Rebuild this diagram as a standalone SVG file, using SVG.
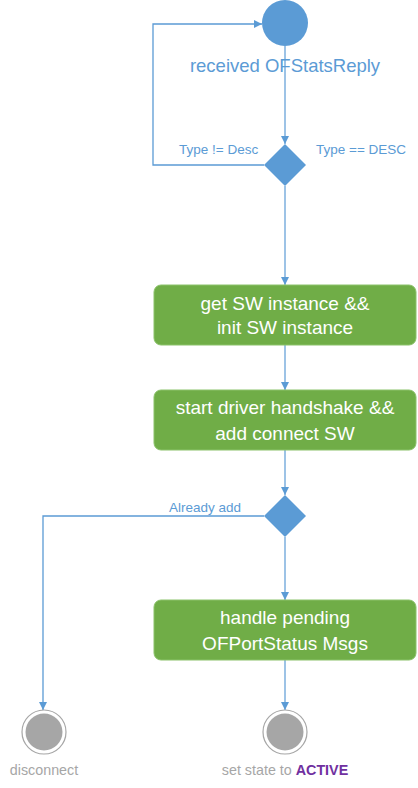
<svg xmlns="http://www.w3.org/2000/svg" width="418" height="788" viewBox="0 0 418 788">
<style>
.conn{fill:none;stroke:#9dc3e6;stroke-width:2}
.conn2{fill:none;stroke:#5b9bd5;stroke-width:1.3}
.box{fill:#70ad47;stroke:#8bc26a;stroke-width:1}
.bt{font-family:"Liberation Sans",Arial,sans-serif;font-size:19px;fill:#ffffff;text-anchor:middle}
.lbl{font-family:"Liberation Sans",Arial,sans-serif;font-size:13.5px;fill:#5b9bd5}
.dia{fill:#5b9bd5}
.end-o{fill:#ffffff;stroke:#a6a6a6;stroke-width:1.2}
.end-i{fill:#a6a6a6}
.gt{font-family:"Liberation Sans",Arial,sans-serif;font-size:14.3px;fill:#a6a6a6;text-anchor:middle}
</style>
<defs>
<marker id="arr" viewBox="0 0 10 10" refX="10" refY="5" markerWidth="8" markerHeight="8" markerUnits="userSpaceOnUse" orient="auto">
<path d="M0,0 L10,5 L0,10 z" fill="#5b9bd5"/>
</marker>
</defs>
<g id="connectors">
<line class="conn" x1="285" y1="46" x2="285" y2="144" marker-end="url(#arr)"/>
<polyline class="conn2" points="264,165 153,165 153,24 262,24" marker-end="url(#arr)"/>
<line class="conn" x1="285" y1="186" x2="285" y2="285" marker-end="url(#arr)"/>
<line class="conn" x1="285" y1="345" x2="285" y2="390" marker-end="url(#arr)"/>
<line class="conn" x1="285" y1="450" x2="285" y2="495" marker-end="url(#arr)"/>
<polyline class="conn2" points="264,516 43,516 43,710" marker-end="url(#arr)"/>
<line class="conn" x1="285" y1="537" x2="285" y2="600" marker-end="url(#arr)"/>
<line class="conn" x1="285" y1="660" x2="285" y2="710" marker-end="url(#arr)"/>
<text class="lbl" x="179" y="154">Type != Desc</text>
<text class="lbl" x="316" y="154">Type == DESC</text>
<text class="lbl" x="169" y="512">Already add</text>
</g>
<g id="start">
<circle cx="285" cy="23" r="23" fill="#5b9bd5"/>
<text x="285" y="72" font-family="Liberation Sans,Arial,sans-serif" font-size="18.5" fill="#5b9bd5" text-anchor="middle">received OFStatsReply</text>
</g>
<g id="decision1"><polygon class="dia" points="285,144 306,165 285,186 264,165"/></g>
<g id="box1">
<rect class="box" x="154" y="285" width="262" height="60" rx="7"/>
<text class="bt" x="285" y="310">get SW instance &amp;&amp;</text>
<text class="bt" x="285" y="334">init SW instance</text>
</g>
<g id="box2">
<rect class="box" x="154" y="390" width="262" height="60" rx="7"/>
<text class="bt" x="285" y="414">start driver handshake &amp;&amp;</text>
<text class="bt" x="285" y="440">add connect SW</text>
</g>
<g id="decision2"><polygon class="dia" points="285,495 306,516 285,537 264,516"/></g>
<g id="box3">
<rect class="box" x="154" y="600" width="262" height="60" rx="7"/>
<text class="bt" x="285" y="624">handle pending</text>
<text class="bt" x="285" y="650">OFPortStatus Msgs</text>
</g>
<g id="end-disconnect">
<circle class="end-o" cx="44" cy="732" r="22"/>
<circle class="end-i" cx="44" cy="732" r="18.5"/>
<text class="gt" x="44" y="775">disconnect</text>
</g>
<g id="end-active">
<circle class="end-o" cx="285" cy="732" r="22"/>
<circle class="end-i" cx="285" cy="732" r="18.5"/>
<text class="gt" x="285" y="775">set state to <tspan font-weight="bold" fill="#7030a0">ACTIVE</tspan></text>
</g>
</svg>
